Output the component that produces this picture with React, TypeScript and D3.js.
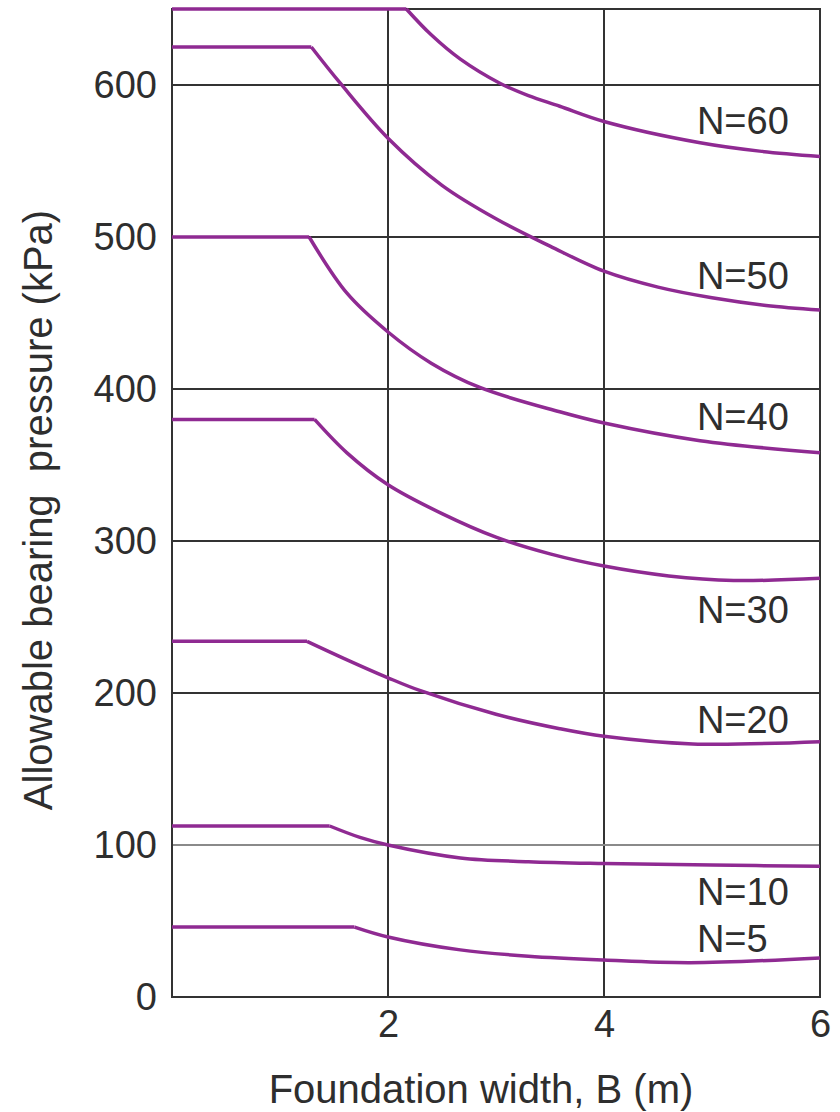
import React, { useEffect, useRef } from 'react';
import * as d3 from 'd3';

// foundation width B (m) and allowable bearing pressure (kPa) per SPT N curve
const n60B = [0, 2.17, 2.4, 2.67, 3.04, 3.3, 3.59, 4, 4.89, 5.44, 6];
const n60Q = [650, 650, 633, 617, 601, 593, 586, 576, 562, 556.5, 553];
const n50B = [0, 1.29, 1.56, 2, 2.5, 3, 3.5, 4, 4.5, 5, 5.5, 6];
const n50Q = [625, 625, 601, 565, 534, 512, 494, 477.5, 467, 460, 455, 452];
const n40B = [0, 1.27, 1.62, 2, 2.4, 2.85, 3.59, 4, 4.89, 6];
const n40Q = [500, 500, 463, 437.5, 417, 401, 385, 377.6, 366, 358];
const n30B = [0, 1.32, 1.62, 2, 2.5, 3, 3.5, 4, 4.6, 5.2, 6];
const n30Q = [380, 380, 358, 337, 318, 302.5, 291.5, 283.5, 277, 274, 275.5];
const n20B = [0, 1.25, 1.6, 2, 2.3, 3, 3.59, 4, 4.82, 6];
const n20Q = [234, 234, 222.5, 210, 201.5, 186, 176.5, 171.5, 166.5, 168];
const n10B = [0, 1.46, 1.74, 2, 2.67, 3.3, 4, 5, 6];
const n10Q = [112.5, 112.5, 105, 100, 91.5, 89, 87.8, 86.8, 86];
const n5B = [0, 1.69, 2, 2.67, 3.3, 4, 4.8, 6];
const n5Q = [46, 46, 39.5, 31, 26.8, 24.3, 22.6, 25.7];

const seriesNames = ['N=60', 'N=50', 'N=40', 'N=30', 'N=20', 'N=10', 'N=5'];
const seriesB = [n60B, n50B, n40B, n30B, n20B, n10B, n5B];
const seriesQ = [n60Q, n50Q, n40Q, n30Q, n20Q, n10Q, n5Q];

const xTicks = [2, 4, 6];
const yTicks = [0, 100, 200, 300, 400, 500, 600];

const FONT = "'Liberation Sans', Arial, sans-serif";
const TEXT = '#2e2e2e';
const PURPLE = '#8f2a92';

export default function App() {
  const ref = useRef<SVGSVGElement>(null);

  useEffect(() => {
    if (!ref.current) return;
    const root = d3.select(ref.current);
    root.selectAll('*').remove();

    const x = d3.scaleLinear().domain([0, 6]).range([172, 820]);
    const y = d3.scaleLinear().domain([0, 650]).range([997, 9]);

    // grid
    const grid = root.append('g');
    xTicks.filter(t => t < 6).forEach(t => {
      grid.append('line')
        .attr('x1', x(t)).attr('x2', x(t))
        .attr('y1', y(0)).attr('y2', y(650))
        .attr('stroke', '#333').attr('stroke-width', 2);
    });
    yTicks.filter(t => t > 0).forEach(t => {
      grid.append('line')
        .attr('x1', x(0)).attr('x2', x(6))
        .attr('y1', y(t)).attr('y2', y(t))
        .attr('stroke', t === 100 ? '#8a8a8a' : '#333')
        .attr('stroke-width', 2);
    });

    // frame
    root.append('rect')
      .attr('x', x(0)).attr('y', y(650))
      .attr('width', x(6) - x(0)).attr('height', y(0) - y(650))
      .attr('fill', 'none').attr('stroke', '#333').attr('stroke-width', 2);

    // curves: straight plateau, then smooth decay from the knee
    const flat = d3.line<[number, number]>().x(d => x(d[0])).y(d => y(d[1]));
    const smooth = d3.line<[number, number]>()
      .x(d => x(d[0])).y(d => y(d[1]))
      .curve(d3.curveCatmullRom.alpha(0.5));

    seriesB.forEach((bs, i) => {
      const pts: [number, number][] = bs.map((b, j) => [b, seriesQ[i][j]]);
      root.append('path')
        .attr('d', flat(pts.slice(0, 2)))
        .attr('fill', 'none').attr('stroke', PURPLE)
        .attr('stroke-width', 3.5);
      root.append('path')
        .attr('d', smooth(pts.slice(1)))
        .attr('fill', 'none').attr('stroke', PURPLE)
        .attr('stroke-width', 3.5).attr('stroke-linejoin', 'round');
    });

    // curve labels (baseline in kPa)
    const labelQ = [568, 466, 373, 246, 174, 60.5, 29.6];
    seriesNames.forEach((name, i) => {
      root.append('text')
        .attr('x', x(4.86)).attr('y', y(labelQ[i]))
        .attr('fill', TEXT).attr('font-family', FONT).attr('font-size', 38)
        .text(name);
    });

    // axes
    root.append('g')
      .attr('transform', `translate(${x(0)},0)`)
      .call(d3.axisLeft(y).tickValues(yTicks).tickSize(0).tickPadding(15).tickFormat(d3.format('d')))
      .call(g => g.select('.domain').remove())
      .call(g => g.selectAll('text')
        .attr('fill', TEXT).attr('font-family', FONT).attr('font-size', 38));

    root.append('g')
      .attr('transform', `translate(0,${y(0)})`)
      .call(d3.axisBottom(x).tickValues(xTicks).tickSize(0).tickPadding(13).tickFormat(d3.format('d')))
      .call(g => g.select('.domain').remove())
      .call(g => g.selectAll('text')
        .attr('fill', TEXT).attr('font-family', FONT).attr('font-size', 38));

    root.append('text')
      .attr('x', 481).attr('y', 1103)
      .attr('text-anchor', 'middle')
      .attr('fill', TEXT).attr('font-family', FONT).attr('font-size', 40)
      .text('Foundation width, B (m)');

    root.append('text')
      .attr('transform', 'translate(52,510) rotate(-90)')
      .attr('text-anchor', 'middle')
      .attr('fill', TEXT).attr('font-family', FONT).attr('font-size', 40)
      .attr('xml:space', 'preserve')
      .style('white-space', 'pre')
      .text('Allowable bearing  pressure (kPa)');
  }, []);

  return (
    <svg
      ref={ref}
      width={840}
      height={1112}
      style={{ position: 'absolute', left: 0, top: 0, background: '#fff' }}
    />
  );
}
